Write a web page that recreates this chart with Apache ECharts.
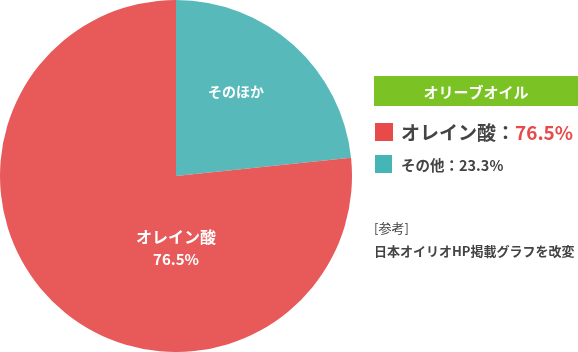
<!DOCTYPE html>
<html>
<head>
<meta charset="utf-8">
<style>
html, body { margin: 0; padding: 0; background: #fff; }
#main { width: 578px; height: 352px; }
</style>
<script src="https://cdn.jsdelivr.net/npm/echarts@6/dist/echarts.min.js"></script>
</head>
<body>
<div id="main"></div>
<script>
// データ
var names = ['そのほか', 'オレイン酸'];
var values = [23.3, 76.5];
var legendNames = ['その他', 'オレイン酸'];
var colors = ['#57b9b9', '#e85a5a'];
var title = 'オリーブオイル';
var note = ['[参考]', '日本オイリオHP掲載グラフを改変'];

var font = '"Noto Sans CJK JP", "Noto Sans", sans-serif';
var chart = echarts.init(document.getElementById('main'));

chart.setOption({
  animation: false,
  series: [{
    type: 'pie',
    center: [176, 176],
    radius: [0, 176],
    startAngle: 90,
    clockwise: true,
    label: { show: false },
    labelLine: { show: false },
    emphasis: { disabled: true },
    data: names.map(function (n, i) {
      return { name: n, value: values[i], itemStyle: { color: colors[i] } };
    })
  }],
  graphic: [
    // 円グラフ内のラベル
    { type: 'text', z: 10, style: {
      text: names[0], x: 236, y: 92, align: 'center', verticalAlign: 'middle',
      fill: '#fff', font: 'bold 14px ' + font } },
    { type: 'text', z: 10, style: {
      text: names[1], x: 176, y: 237, align: 'center', verticalAlign: 'middle',
      fill: '#fff', font: 'bold 16px ' + font } },
    { type: 'text', z: 10, style: {
      text: values[1].toFixed(1) + '%', x: 176, y: 259, align: 'center', verticalAlign: 'middle',
      fill: '#fff', font: 'bold 15px ' + font } },
    // 凡例
    { type: 'rect', shape: { x: 374, y: 76, width: 204, height: 30 }, style: { fill: '#7bc325' } },
    { type: 'text', z: 10, style: {
      text: title, x: 476, y: 92, align: 'center', verticalAlign: 'middle',
      fill: '#fff', font: 'bold 15px ' + font } },
    { type: 'rect', shape: { x: 375, y: 123, width: 18, height: 18 }, style: { fill: '#e84a4a' } },
    { type: 'text', z: 10, style: {
      rich: {
        a: { fill: '#444', font: 'bold 19px ' + font },
        b: { fill: '#e84a4a', font: 'bold 19px ' + font }
      },
      text: '{a|' + legendNames[1] + '：}{b|' + values[1].toFixed(1) + '%}',
      x: 401, y: 133, verticalAlign: 'middle' } },
    { type: 'rect', shape: { x: 375, y: 155, width: 17, height: 18 }, style: { fill: '#45b5b5' } },
    { type: 'text', z: 10, style: {
      text: legendNames[0] + '：' + values[0].toFixed(1) + '%', x: 401, y: 165, verticalAlign: 'middle',
      fill: '#444', font: 'bold 14.5px ' + font } },
    // 出典
    { type: 'text', z: 10, style: {
      text: note[0], x: 374, y: 228, verticalAlign: 'middle',
      fill: '#444', font: '13px ' + font } },
    { type: 'text', z: 10, style: {
      text: note[1], x: 374, y: 251, verticalAlign: 'middle',
      fill: '#444', font: 'bold 13px ' + font } }
  ]
});
</script>
</body>
</html>
